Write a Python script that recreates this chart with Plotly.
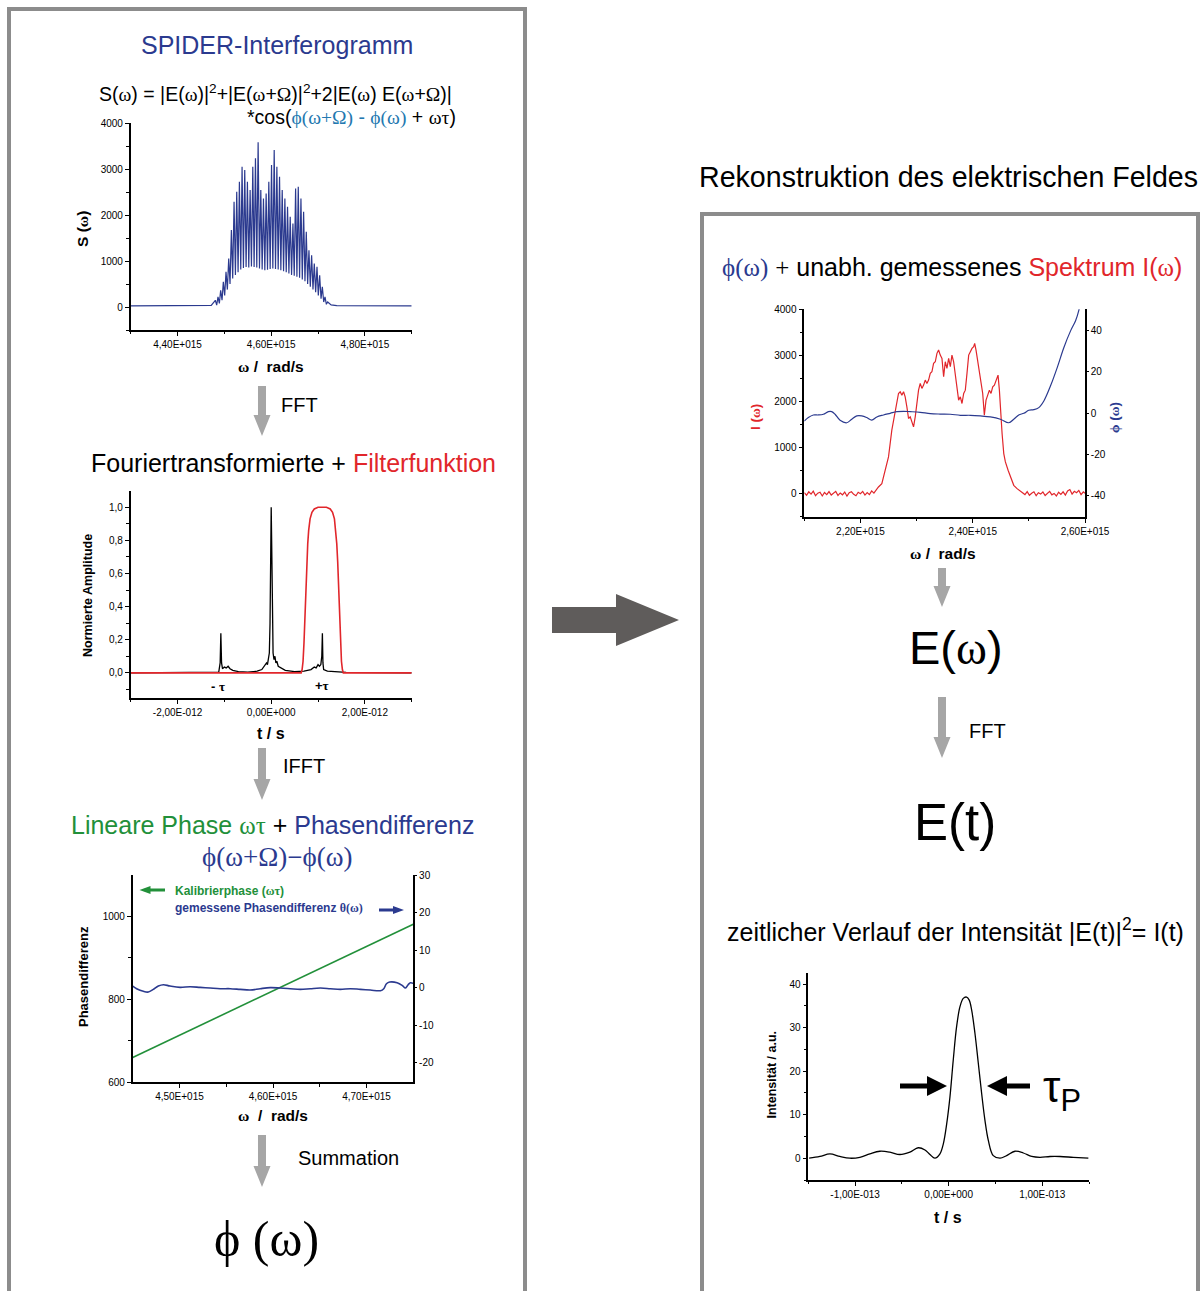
import plotly.graph_objects as go

W, H = 1203, 1291
def px(x): return x / W
def py(y): return 1 - y / H

BLUE = "#2b3a8f"
RED = "#e1262b"
GREEN = "#22903a"
TEAL = "#2378b0"
FRAME = "#8c8c8c"
AGRAY = "#a6a6a6"
DARK = "#5f5c5b"
SANS = "Liberation Sans, Arial, sans-serif"
SERIF = "Liberation Serif, DejaVu Serif, serif"

# ---------------- DATA ----------------
# Panel 1: SPIDER interferogram, omega in 1e15 rad/s
s_peak_w = [4.4807, 4.4864, 4.4921, 4.4978, 4.5035, 4.5093, 4.5150, 4.5207, 4.5264, 4.5321,
            4.5378, 4.5435, 4.5492, 4.5550, 4.5607, 4.5664, 4.5721, 4.5778, 4.5835, 4.5892,
            4.5949, 4.6007, 4.6064, 4.6121, 4.6178, 4.6235, 4.6292, 4.6349, 4.6406, 4.6464,
            4.6521, 4.6578, 4.6635, 4.6692, 4.6749, 4.6806, 4.6863, 4.6920, 4.6978, 4.7035,
            4.7092, 4.7149, 4.7206]
s_peak_s = [147, 220, 365, 547, 765, 1056, 1674, 2292, 2510, 2728,
            3055, 2983, 2728, 2546, 3055, 3237, 3586, 2546, 2365, 2474,
            2728, 3092, 3419, 3055, 2837, 2546, 2365, 2183, 1965, 1819,
            2583, 2619, 2365, 2074, 1638, 1238, 1129, 947, 874, 693,
            438, 220, 111]
s_trough_w = [4.4836, 4.4893, 4.4950, 4.5007, 4.5064, 4.5121, 4.5178, 4.5236, 4.5293, 4.5350,
              4.5407, 4.5464, 4.5521, 4.5578, 4.5635, 4.5692, 4.5750, 4.5807, 4.5864, 4.5921,
              4.5978, 4.6035, 4.6092, 4.6149, 4.6206, 4.6264, 4.6321, 4.6378, 4.6435, 4.6492,
              4.6549, 4.6606, 4.6664, 4.6721, 4.6778, 4.6835, 4.6892, 4.6949, 4.7006, 4.7064,
              4.7121, 4.7178]
s_trough_s = [40, 80, 150, 250, 380, 500, 620, 700, 760, 820,
              850, 870, 860, 880, 870, 860, 840, 820, 800, 810,
              830, 840, 830, 820, 800, 780, 760, 730, 700, 680,
              660, 640, 600, 560, 500, 440, 380, 320, 250, 180,
              110, 60]
s_base_w = [4.30, 4.36, 4.42, 4.46, 4.472, 4.728, 4.74, 4.80, 4.86, 4.90]
s_base_s = [25, 26, 25, 28, 35, 45, 30, 26, 25, 25]

# Panel 2: Fourier transform (t in 1e-12 s) and filter
ft_t = [-3.0, -1.3, -1.12, -1.09, -1.075, -1.06, -1.04, -1.00, -0.96, -0.92, -0.88, -0.82,
        -0.70, -0.50, -0.30, -0.20, -0.14, -0.10, -0.08, -0.06, -0.04, -0.025, -0.012, 0.0,
        0.012, 0.025, 0.04, 0.06, 0.08, 0.10, 0.12, 0.15, 0.20, 0.30, 0.50, 0.70, 0.85, 0.92,
        0.96, 1.00, 1.03, 1.06, 1.08, 1.093, 1.105, 1.12, 1.20, 1.40, 1.60, 3.0]
ft_amp = [0.0, 0.003, 0.005, 0.06, 0.239, 0.06, 0.025, 0.035, 0.03, 0.04, 0.025, 0.015,
          0.008, 0.005, 0.01, 0.02, 0.04, 0.06, 0.05, 0.09, 0.12, 0.30, 0.80, 1.0,
          0.75, 0.25, 0.12, 0.08, 0.10, 0.06, 0.07, 0.04, 0.03, 0.015, 0.008, 0.01, 0.02, 0.035,
          0.03, 0.05, 0.04, 0.05, 0.10, 0.239, 0.06, 0.02, 0.01, 0.005, 0.003, 0.0]
filt_t = [-3.0, 0.64, 0.66, 0.68, 0.70, 0.72, 0.74, 0.76, 0.78, 0.80, 0.83, 0.87, 0.92, 1.00,
          1.10, 1.18, 1.26, 1.31, 1.35, 1.38, 1.40, 1.42, 1.44, 1.46, 1.48, 1.50, 1.52, 1.54, 3.0]
filt_amp = [0, 0, 0.02, 0.07, 0.18, 0.35, 0.52, 0.67, 0.78, 0.86, 0.93, 0.97, 0.99, 1.0,
            1.0, 1.0, 0.99, 0.97, 0.93, 0.86, 0.78, 0.67, 0.52, 0.35, 0.18, 0.07, 0.02, 0, 0]

# Panel 3: calibration phase (left axis) and phase difference (right axis)
kal_w = [4.45, 4.75]
kal_phase = [660, 981]
diff_w = [4.45, 4.4542, 4.4614, 4.4667, 4.4721, 4.4774, 4.4828, 4.4899, 4.5007, 4.5114,
          4.5221, 4.5328, 4.5435, 4.5542, 4.5649, 4.5756, 4.5863, 4.5970, 4.6078, 4.6185,
          4.6292, 4.6399, 4.6506, 4.6613, 4.6720, 4.6827, 4.6934, 4.7041, 4.7149, 4.7184,
          4.7213, 4.7248, 4.7327, 4.7381, 4.7416, 4.7445, 4.7470, 4.75]
diff_val = [0.43, -0.27, -0.98, -1.16, -0.45, 0.43, 0.79, 0.43, 0.08, 0.26,
            0.08, -0.10, -0.27, -0.27, -0.45, -0.63, -0.27, 0.00, -0.10, -0.27,
            -0.45, -0.27, -0.10, -0.27, -0.45, -0.27, -0.45, -0.63, -0.80, -0.27,
            1.05, 1.50, 1.32, 0.61, -0.10, 0.79, 1.32, 1.14]

# Panel 4: spectrum I(omega) (left) and phase phi(omega) (right), omega in 1e15 rad/s
spec_w = [2.100, 2.104, 2.108, 2.112, 2.116, 2.120, 2.124, 2.128, 2.132, 2.136, 2.140, 2.144,
          2.148, 2.152, 2.156, 2.160, 2.164, 2.168, 2.172, 2.176, 2.180, 2.184, 2.188, 2.192,
          2.196, 2.200, 2.204, 2.208, 2.212, 2.216, 2.220, 2.224, 2.228,
          2.2321, 2.2381, 2.2440, 2.2500, 2.2559, 2.2619, 2.2678, 2.2708, 2.2738, 2.2768,
          2.2797, 2.2827, 2.2857, 2.2887, 2.2916, 2.2946, 2.2976, 2.3006, 2.3035, 2.3065,
          2.3095, 2.3125, 2.3154, 2.3184, 2.3214, 2.3244, 2.3273, 2.3303, 2.3333, 2.3363,
          2.3392, 2.3422, 2.3452, 2.3482, 2.3511, 2.3541, 2.3571, 2.3601, 2.3630, 2.3660,
          2.3690, 2.3720, 2.3749, 2.3779, 2.3809, 2.3839, 2.3868, 2.3898, 2.3928, 2.3958,
          2.3987, 2.4017, 2.4035, 2.4059, 2.4088, 2.4118, 2.4148, 2.4178, 2.4207, 2.4237,
          2.4267, 2.4297, 2.4326, 2.4356, 2.4386, 2.4416, 2.4451, 2.4475, 2.4499, 2.4523,
          2.4553, 2.4582, 2.4630, 2.4672, 2.4731, 2.4790, 2.4850,
          2.489, 2.493, 2.497, 2.501, 2.505, 2.509, 2.513, 2.517, 2.521, 2.525, 2.529, 2.533,
          2.537, 2.541, 2.545, 2.549, 2.553, 2.557, 2.561, 2.565, 2.569, 2.573, 2.577, 2.581,
          2.585, 2.589, 2.593, 2.597, 2.600]
spec_i = [20, -35, 40, -10, 55, -45, 10, 30, -50, 25, -20, 45,
          -30, 5, 50, -40, 15, -25, 35, -55, 20, 40, -15, -45,
          30, 0, 50, -30, 25, -20, 60, 10, 80,
          145, 217, 507, 797, 1377, 1812, 2174, 2210, 2138, 2210,
          2101, 1884, 1630, 1667, 1558, 1449, 1667, 1956, 2246, 2391,
          2283, 2355, 2464, 2391, 2464, 2609, 2645, 2826, 2862, 3044,
          3116, 3007, 2935, 2536, 2862, 2717, 2935, 2754, 3007, 2862,
          2609, 2319, 2029, 2101, 1956, 2174, 2246, 2609, 3007, 3080,
          3152, 3188, 3261, 3116, 2898, 2681, 2464, 2174, 1703, 2029,
          2138, 2246, 2174, 2319, 2355, 2464, 2572, 2246, 1667, 1304,
          869, 688, 507, 362, 181, 109, 58,
          30, -20, 45, -35, 10, 40, -45, 20, -10, 35, -40, 15,
          50, -25, 5, -50, 30, -15, 40, -30, 60, 90, -10, 50,
          20, 70, -20, 40, 10]
phi_w = [2.1000, 2.1072, 2.1161, 2.1250, 2.1340, 2.1429, 2.1488, 2.1548, 2.1637, 2.1756,
         2.1845, 2.1935, 2.2024, 2.2113, 2.2202, 2.2292, 2.2411, 2.2530, 2.2649, 2.2768,
         2.2887, 2.3065, 2.3244, 2.3422, 2.3601, 2.3779, 2.3958, 2.4136, 2.4315, 2.4493,
         2.4642, 2.4731, 2.4820, 2.4910, 2.4999, 2.5088, 2.5177, 2.5267, 2.5386, 2.5505,
         2.5624, 2.5743, 2.5832, 2.5891, 2.5920]
phi_val = [-3.9, -2.2, -0.95, -0.95, -0.6, 0.66, 0.66, -0.6, -3.5, -4.7,
           -3.0, -1.4, -1.4, -2.2, -3.4, -1.9, -0.95, -0.15, 0.66, 0.82,
           0.66, 0.34, -0.3, -0.5, -0.6, -1.1, -1.1, -1.4, -1.9, -3.0,
           -4.7, -3.0, -0.95, -0.15, 1.3, 1.6, 2.6, 5.8, 13.1, 21.9,
           31.6, 39.6, 44.5, 49.6, 54.0]

# Panel 5: temporal intensity, t in 1e-13 s
pulse_t = [-1.491, -1.376, -1.269, -1.163, -1.056, -0.949, -0.842, -0.735, -0.628, -0.521,
           -0.414, -0.325, -0.253, -0.200, -0.147, -0.093, -0.057, -0.021, 0.014, 0.049,
           0.085, 0.121, 0.156, 0.192, 0.220, 0.246, 0.281, 0.317, 0.353, 0.388,
           0.424, 0.477, 0.549, 0.620, 0.709, 0.798, 0.888, 0.976, 1.083, 1.190,
           1.333, 1.493]
pulse_i = [0.0, 0.4, 1.0, 0.4, 0.0, 0.2, 1.0, 1.6, 1.4, 0.85,
           1.4, 2.4, 1.9, 0.85, 0.0, 1.0, 3.3, 7.9, 14.1, 22.5,
           30.2, 34.8, 36.7, 37.0, 36.3, 34.0, 28.7, 21.8, 14.8, 8.7,
           4.1, 0.6, 0.0, 0.6, 1.6, 1.2, 0.4, 0.2, 0.4, 0.4,
           0.2, 0.0]

# Tick labels
p1_xt = [4.4, 4.6, 4.8];        p1_xl = ["4,40E+015", "4,60E+015", "4,80E+015"]
p1_yt = [0, 1000, 2000, 3000, 4000]; p1_yl = ["0", "1000", "2000", "3000", "4000"]
p2_xt = [-2, 0, 2];             p2_xl = ["-2,00E-012", "0,00E+000", "2,00E-012"]
p2_yt = [0, 0.2, 0.4, 0.6, 0.8, 1.0]; p2_yl = ["0,0", "0,2", "0,4", "0,6", "0,8", "1,0"]
p3_xt = [4.5, 4.6, 4.7];        p3_xl = ["4,50E+015", "4,60E+015", "4,70E+015"]
p3_yt = [600, 800, 1000];       p3_yl = ["600", "800", "1000"]
p3_rt = [-20, -10, 0, 10, 20, 30]; p3_rl = ["-20", "-10", "0", "10", "20", "30"]
p4_xt = [2.2, 2.4, 2.6];        p4_xl = ["2,20E+015", "2,40E+015", "2,60E+015"]
p4_yt = [0, 1000, 2000, 3000, 4000]; p4_yl = ["0", "1000", "2000", "3000", "4000"]
p4_rt = [-40, -20, 0, 20, 40];  p4_rl = ["-40", "-20", "0", "20", "40"]
p5_xt = [-1, 0, 1];             p5_xl = ["-1,00E-013", "0,00E+000", "1,00E-013"]
p5_yt = [0, 10, 20, 30, 40];    p5_yl = ["0", "10", "20", "30", "40"]

# ---------------- FIGURE ----------------
fig = go.Figure()

def merge(*pairs):
    pts = []
    for ws, vs in pairs:
        pts += list(zip(ws, vs))
    pts.sort()
    return [p[0] for p in pts], [p[1] for p in pts]

s_w, s_s = merge((s_peak_w, s_peak_s), (s_trough_w, s_trough_s), (s_base_w, s_base_s))

def line(x, y, xa, ya, color, width=1.3, shape="linear"):
    fig.add_trace(go.Scatter(x=x, y=y, xaxis=xa, yaxis=ya, mode="lines",
                             line=dict(color=color, width=width, shape=shape),
                             showlegend=False, hoverinfo="skip", cliponaxis=True))

line(s_w, s_s, "x", "y", BLUE, 1.2)
line(ft_t, ft_amp, "x2", "y2", "black", 1.3)
line(filt_t, filt_amp, "x2", "y2", RED, 1.6)
line(kal_w, kal_phase, "x3", "y3", GREEN, 1.6)
line(diff_w, diff_val, "x3", "y4", BLUE, 1.6, "spline")
line(spec_w, spec_i, "x4", "y5", RED, 1.2)
line(phi_w, phi_val, "x4", "y6", BLUE, 1.2, "spline")
line(pulse_t, pulse_i, "x5", "y7", "black", 1.3, "spline")

def axis(x0, x1, rng, tv, tl, minor, horizontal=True, **kw):
    d = dict(domain=[px(x0), px(x1)] if horizontal else [py(x1), py(x0)],
             range=rng, showline=True, linecolor="black", linewidth=1.6,
             ticks="outside", ticklen=4, tickwidth=1.3, tickcolor="black",
             tickmode="array", tickvals=tv, ticktext=tl,
             tickfont=dict(size=10, family=SANS, color="black"),
             showgrid=False, zeroline=False, fixedrange=True, automargin=False)
    if minor is not None:
        d["minor"] = dict(tickmode="array", tickvals=minor, ticks="outside", ticklen=2.5,
                          tickwidth=1.1, tickcolor="black", showgrid=False)
    d.update(kw)
    return d

fig.update_layout(
    width=W, height=H, autosize=False, margin=dict(l=0, r=0, t=0, b=0, pad=0, autoexpand=False),
    paper_bgcolor="white", plot_bgcolor="rgba(0,0,0,0)", showlegend=False,
    xaxis=axis(130.7, 411.7, [4.30, 4.90], p1_xt, p1_xl, [4.3, 4.5, 4.7, 4.9], anchor="y"),
    yaxis=axis(123.3, 330, [-500, 4000], p1_yt, p1_yl, [-500, 500, 1500, 2500, 3500], False, anchor="x"),
    xaxis2=axis(130.7, 411.7, [-3, 3], p2_xt, p2_xl, [-3, -1, 1, 3], anchor="y2"),
    yaxis2=axis(490.7, 697.7, [-0.15, 1.1], p2_yt, p2_yl, [-0.1, 0.1, 0.3, 0.5, 0.7, 0.9], False, anchor="x2"),
    xaxis3=axis(132.7, 413.3, [4.45, 4.75], p3_xt, p3_xl, [4.55, 4.65], anchor="y3"),
    yaxis3=axis(875, 1082.3, [600, 1100], p3_yt, p3_yl, [700, 900], False, anchor="x3"),
    yaxis4=axis(875, 1082.3, [-25.2, 30], p3_rt, p3_rl, None, False, anchor="x3",
                overlaying="y3", side="right", ticklen=2),
    xaxis4=axis(804.3, 1085, [2.10, 2.60], p4_xt, p4_xl, [2.1, 2.3, 2.5], anchor="y5"),
    yaxis5=axis(309.3, 516.7, [-500, 4000], p4_yt, p4_yl, [-500, 500, 1500, 2500, 3500], False, anchor="x4"),
    yaxis6=axis(309.3, 516.7, [-50, 50], p4_rt, p4_rl, None, False, anchor="x4",
                overlaying="y5", side="right", ticklen=2),
    xaxis5=axis(808.3, 1089, [-1.5, 1.5], p5_xt, p5_xl, [-1.5, -0.5, 0.5, 1.5], anchor="y7"),
    yaxis7=axis(972.7, 1180, [-5, 42.6], p5_yt, p5_yl, [-5, 5, 15, 25, 35], False, anchor="x5"),
)

# ---------------- SHAPES ----------------
shapes = []
def rect(x0, y0, x1, y1):
    shapes.append(dict(type="rect", xref="paper", yref="paper", x0=px(x0), x1=px(x1),
                       y0=py(y1), y1=py(y0), line=dict(color=FRAME, width=4), layer="below"))

def poly(pts, color):
    path = "M " + " L ".join(f"{px(x):.5f},{py(y):.5f}" for x, y in pts) + " Z"
    shapes.append(dict(type="path", xref="paper", yref="paper", path=path,
                       fillcolor=color, line=dict(width=0)))

def down_arrow(cx, y0, y1, sw=8, hw=17, hl=21):
    poly([(cx - sw / 2, y0), (cx + sw / 2, y0), (cx + sw / 2, y1 - hl), (cx + hw / 2, y1 - hl),
          (cx, y1), (cx - hw / 2, y1 - hl), (cx - sw / 2, y1 - hl)], AGRAY)

def h_arrow(x_tail, x_tip, y, sw, hw, hl, color):
    s = 1 if x_tip > x_tail else -1
    xb = x_tip - s * hl
    poly([(x_tail, y - sw / 2), (xb, y - sw / 2), (xb, y - hw / 2), (x_tip, y),
          (xb, y + hw / 2), (xb, y + sw / 2), (x_tail, y + sw / 2)], color)

rect(9, 9, 525, 1300)
rect(702, 214, 1198, 1300)

down_arrow(262, 386, 436)
down_arrow(262, 748, 800)
down_arrow(262, 1135, 1187)
down_arrow(942, 568, 607)
down_arrow(942, 697, 758)

# big central arrow
poly([(552, 607), (616, 607), (616, 594), (679, 620), (616, 646), (616, 633), (552, 633)], DARK)

# legend arrows panel 3
h_arrow(165, 139.5, 890, 3, 8, 11, GREEN)
h_arrow(379, 404, 910, 3, 8, 11, BLUE)

# pulse width arrows
h_arrow(900, 947, 1086, 5, 20, 20, "black")
h_arrow(1030, 987, 1086, 5, 20, 20, "black")

fig.update_layout(shapes=shapes)

# ---------------- TEXT ----------------
ann = []
def txt(x, y, text, size, color="black", family=SANS, xanchor="center", angle=0):
    ann.append(dict(x=px(x), y=py(y), xref="paper", yref="paper", text=text, showarrow=False,
                    font=dict(size=size, color=color, family=family), xanchor=xanchor,
                    yanchor="middle", textangle=angle, borderpad=0))

def g(s, color=None):
    st = f"font-family:{SERIF}"
    if color:
        st += f";color:{color}"
    return f'<span style="{st}">{s}</span>'

def c(s, color):
    return f'<span style="color:{color}">{s}</span>'

w = g("ω"); Om = g("Ω"); ph = g("ϕ"); ta = g("τ")

txt(277, 45, "SPIDER-Interferogramm", 25, BLUE)
txt(98, 93, f"S({w}) = |E({w})|<sup>2</sup>+|E({w}+{Om})|<sup>2</sup>+2|E({w}) E({w}+{Om})|", 19.5,
    xanchor="left")
txt(457, 117, "*cos(" + g("ϕ(ω+Ω)", TEAL) + c(" - ", TEAL) + g("ϕ(ω)", TEAL) + f" + {w}{ta})",
    19.5, xanchor="right")
txt(280, 405, "FFT", 20, xanchor="left")
txt(293.5, 463, "Fouriertransformierte + " + c("Filterfunktion", RED), 25)
txt(282, 766, "IFFT", 20, xanchor="left")
txt(272.5, 825, c("Lineare Phase " + g("ωτ"), GREEN) + " + " + c("Phasendifferenz", BLUE), 25)
txt(277, 857, "ϕ(ω+Ω)−ϕ(ω)", 27, BLUE, SERIF)
txt(297, 1158, "Summation", 20, xanchor="left")
txt(266, 1239, "ϕ (ω)", 50, "black", SERIF)

txt(948, 177, "Rekonstruktion des elektrischen Feldes", 28.6)
txt(952, 267, g("ϕ(ω)", BLUE) + " " + g("+") + " unabh. gemessenes " + c("Spektrum I(" + g("ω") + ")", RED), 25)
txt(956, 647, f"E({w})", 47)
txt(968, 731, "FFT", 20, xanchor="left")
txt(955, 822, "E(t)", 51)
txt(955, 930, "zeitlicher Verlauf der Intensität |E(t)|<sup>2</sup>= I(t)", 25)
txt(1042, 1090, "τ<sub>P</sub>", 44, xanchor="left")

# axis titles
txt(82, 229, f"<b>S ({w})</b>", 15.5, angle=-90)
txt(270.7, 366, f"<b>{w} /  rad/s</b>", 15.5)
txt(88, 596, "<b>Normierte Amplitude</b>", 12.5, angle=-90)
txt(270.7, 733, "<b>t / s</b>", 16)
txt(218, 686, f"<b>- {ta}</b>", 13)
txt(321.7, 685, f"<b>+{ta}</b>", 13)
txt(83, 977, "<b>Phasendifferenz</b>", 13, angle=-90)
txt(273, 1115, f"<b>{w}  /  rad/s</b>", 15.5)
txt(174, 891, "<b>Kalibrierphase (" + g("ωτ") + ")</b>", 12, GREEN, xanchor="left")
txt(174, 908, "<b>gemessene Phasendifferenz " + g("θ(ω)") + "</b>", 12, BLUE, xanchor="left")
txt(755, 417, f"<b>I ({w})</b>", 13.5, RED, angle=-90)
txt(1115, 418, f"<b>{ph} ({w})</b>", 13.5, BLUE, angle=-90)
txt(943, 553, f"<b>{w} /  rad/s</b>", 15.5)
txt(771.5, 1075, "<b>Intensität / a.u.</b>", 12.5, angle=-90)
txt(948, 1217, "<b>t / s</b>", 16)

fig.update_layout(annotations=ann)
fig.write_html("out.html", config={"responsive": False})
